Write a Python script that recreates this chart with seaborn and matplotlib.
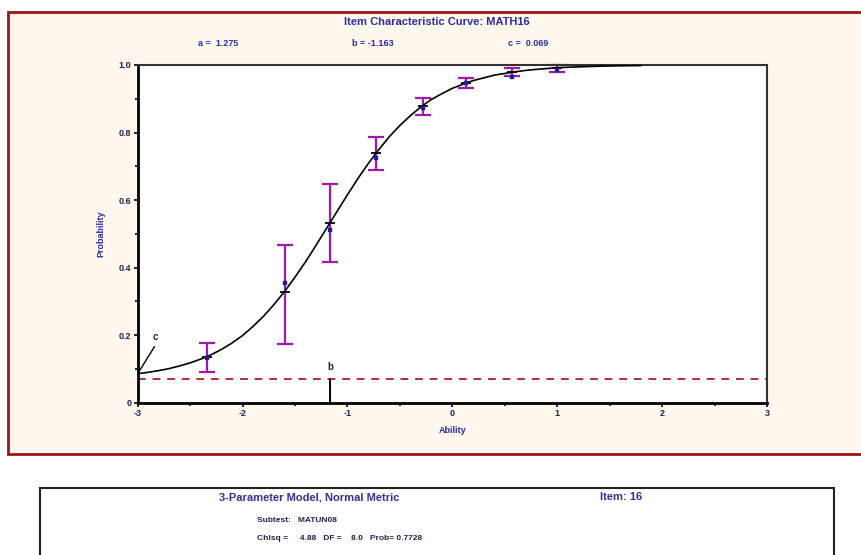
import numpy as np
import pandas as pd
import matplotlib
matplotlib.use("Agg")
import matplotlib.pyplot as plt
import seaborn as sns
from matplotlib.patches import Rectangle
from matplotlib.ticker import MultipleLocator, FuncFormatter

# item parameters shown on the chart
a_param = 1.275
b_param = -1.163
c_param = 0.069

# fitted curve
curve_x = [-3.0, -2.9, -2.8, -2.7, -2.6, -2.5, -2.4, -2.3, -2.2, -2.1, -2.0, -1.9, -1.8,
           -1.7, -1.6, -1.5, -1.4, -1.3, -1.2, -1.1, -1.0, -0.9, -0.8, -0.7, -0.6, -0.5,
           -0.4, -0.3, -0.2, -0.1, 0.0, 0.1, 0.2, 0.3, 0.4, 0.5, 0.6, 0.7, 0.8, 0.9, 1.0,
           1.2, 1.4, 1.6, 1.8]
curve_p = [0.086, 0.090, 0.095, 0.101, 0.109, 0.118, 0.129, 0.142, 0.158, 0.177, 0.199, 0.226, 0.256,
           0.291, 0.329, 0.372, 0.417, 0.466, 0.516, 0.566, 0.616, 0.664, 0.709, 0.750, 0.788, 0.821,
           0.850, 0.876, 0.898, 0.915, 0.931, 0.943, 0.954, 0.962, 0.970, 0.975, 0.980, 0.984, 0.987, 0.9895, 0.992,
           0.9945, 0.9964, 0.9977, 0.9985]

# observed proportions with confidence bars
obs_x = [-2.34, -1.60, -1.17, -0.73, -0.28, 0.13, 0.57, 1.00]
obs_p = [0.132, 0.354, 0.512, 0.726, 0.872, 0.946, 0.964, 0.985]
model_p = [0.136, 0.329, 0.531, 0.738, 0.880, 0.946, 0.979, 0.992]
bar_lo = [0.091, 0.173, 0.417, 0.690, 0.851, 0.932, 0.967, 0.979]
bar_hi = [0.178, 0.467, 0.649, 0.786, 0.902, 0.961, 0.991, 1.000]

x_ticks = [-3, -2, -1, 0, 1, 2, 3]
y_ticks = [0, 0.2, 0.4, 0.6, 0.8, 1.0]

sns.set_style("white")
plt.rcParams['font.family'] = ['Liberation Sans', 'DejaVu Sans']
plt.rcParams['axes.unicode_minus'] = False

blue = '#2b2ba8'
ink = '#22224a'

fig = plt.figure(figsize=(8.61, 5.55), dpi=100)
fig.patch.set_facecolor('white')

# upper panel frame
fig.patches.append(Rectangle((8 / 861, 1 - 454 / 555), 1.0, (454 - 12) / 555,
                             transform=fig.transFigure, facecolor='#fff8ef',
                             edgecolor='#9e1515', lw=2.0, zorder=-2))
# lower info box
fig.patches.append(Rectangle((40 / 861, -0.05), (834 - 40) / 861, 0.05 + (555 - 488) / 555,
                             transform=fig.transFigure, facecolor='white',
                             edgecolor='#222222', lw=1.5, zorder=-2))

ax = fig.add_axes([137.7 / 861, 1 - 402.7 / 555, (767 - 137.7) / 861, (402.7 - 65) / 555])
ax.set_zorder(3)
ax.set_facecolor('white')

curve = pd.DataFrame({'ability': curve_x, 'prob': curve_p})
sns.lineplot(data=curve, x='ability', y='prob', color='black', lw=1.2, ax=ax, zorder=3)

model_arr = np.array(model_p)
yerr = [model_arr - np.array(bar_lo), np.array(bar_hi) - model_arr]
ax.errorbar(obs_x, model_p, yerr=yerr, fmt='none', ecolor='#a01aa8', elinewidth=1.6,
            capsize=6, capthick=1.6, zorder=2, clip_on=False)
ax.plot(obs_x, model_p, ls='none', marker='_', ms=7, mew=1.3, color='black', zorder=4)
sns.scatterplot(x=obs_x, y=obs_p, marker='s', s=10, color='#1c1c9c', edgecolor='#1c1c9c',
                ax=ax, zorder=5)

# guessing asymptote and difficulty marker
ax.axhline(c_param, color='#b03030', ls=(0, (4, 3.5)), lw=1.4, zorder=1)
ax.plot([b_param, b_param], [0, c_param], color='black', lw=1.4, zorder=3)
ax.text(b_param, 0.09, 'b', fontsize=7, fontweight='bold', color=ink, ha='center', va='bottom')
ax.plot([-3.0, -2.84], [curve_p[0], 0.166], color='black', lw=1.0, zorder=3)
ax.text(-2.86, 0.18, 'c', fontsize=7, fontweight='bold', color=ink, ha='left', va='bottom')

ax.set_xlim(-3, 3)
ax.set_ylim(0, 1.0)
ax.set_xticks(x_ticks)
ax.set_yticks(y_ticks)
ax.xaxis.set_minor_locator(MultipleLocator(0.5))
ax.yaxis.set_minor_locator(MultipleLocator(0.1))
ax.yaxis.set_major_formatter(FuncFormatter(lambda v, pos: '0' if v == 0 else '%.1f' % v))
ax.tick_params(which='both', direction='out', length=3, width=1.2, color='black',
               labelsize=6.5, labelcolor=ink, pad=1.5, bottom=True, left=True)
ax.tick_params(which='minor', length=2)
for lab in ax.get_xticklabels() + ax.get_yticklabels():
    lab.set_fontweight('bold')
for side in ['left', 'bottom']:
    ax.spines[side].set_linewidth(2.0)
    ax.spines[side].set_color('black')
for side in ['top', 'right']:
    ax.spines[side].set_linewidth(1.5)
    ax.spines[side].set_color('#333333')

ax.set_xlabel('Ability', fontsize=6.5, fontweight='bold', color=blue, labelpad=6)
ax.set_ylabel('Probability', fontsize=6.5, fontweight='bold', color=blue, labelpad=10)

# header texts
fig.text(437 / 861, 1 - 22 / 555, 'Item Characteristic Curve: MATH16', fontsize=8,
         fontweight='bold', color=blue, ha='center', va='center')
fig.text(198 / 861, 1 - 44 / 555, 'a =  %.3f' % a_param, fontsize=6.5, fontweight='bold',
         color=blue, ha='left', va='center')
fig.text(352 / 861, 1 - 44 / 555, 'b = %.3f' % b_param, fontsize=6.5, fontweight='bold',
         color=blue, ha='left', va='center')
fig.text(508 / 861, 1 - 44 / 555, 'c =  %.3f' % c_param, fontsize=6.5, fontweight='bold',
         color=blue, ha='left', va='center')

# lower info box texts
fig.text(309 / 861, 1 - 497 / 555, '3-Parameter Model, Normal Metric', fontsize=8,
         fontweight='bold', color='#3a2a9a', ha='center', va='center')
fig.text(621 / 861, 1 - 497 / 555, 'Item: 16', fontsize=8, fontweight='bold',
         color='#3a2a9a', ha='center', va='center')
fig.text(257 / 861, 1 - 520 / 555, 'Subtest:   MATUN08', fontsize=6, fontweight='bold',
         color=ink, ha='left', va='center')
fig.text(257 / 861, 1 - 538 / 555, 'Chisq =     4.88   DF =    8.0   Prob= 0.7728', fontsize=6,
         fontweight='bold', color=ink, ha='left', va='center')

fig.savefig('out.png', dpi=100)
